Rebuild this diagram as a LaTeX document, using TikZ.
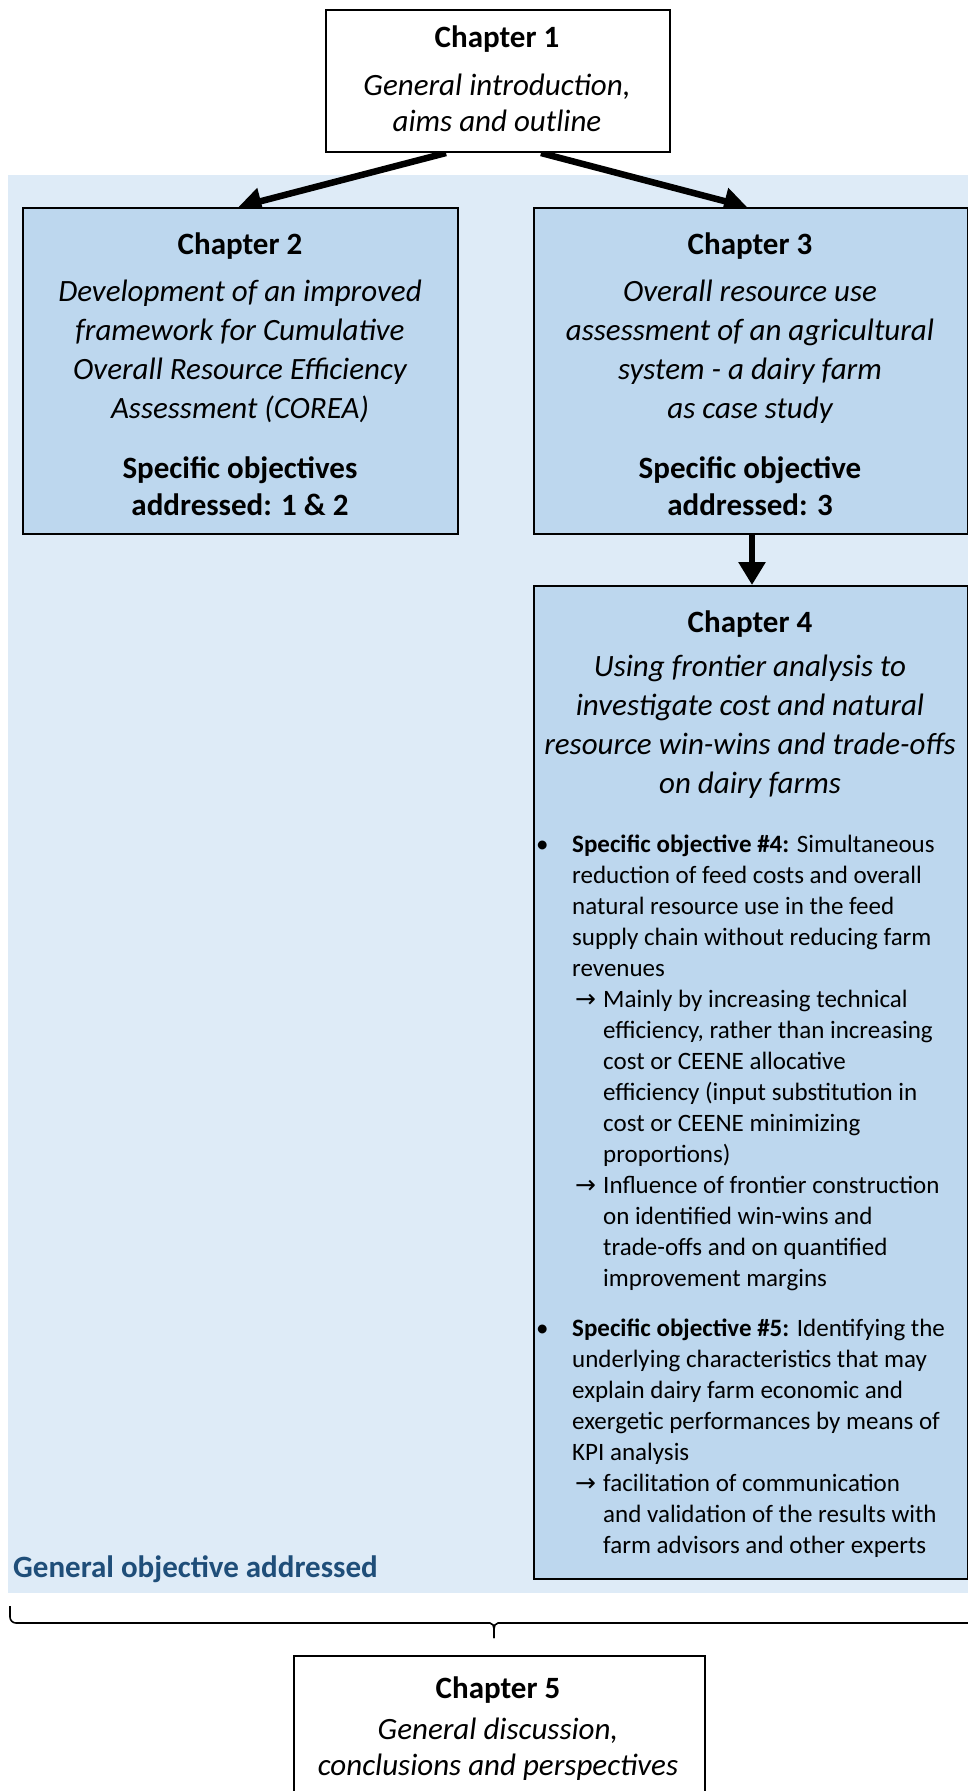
\documentclass[tikz,border=0pt]{standalone}
\usepackage{fontspec}
\setmainfont{Carlito}
\newfontfamily\djv{DejaVu Sans}
\usetikzlibrary{arrows.meta,backgrounds}
\definecolor{bgblue}{RGB}{222,235,247}
\definecolor{boxblue}{RGB}{189,215,238}
\definecolor{darkblue}{RGB}{31,78,121}
\newcommand\arrl{\hspace*{3pt}\makebox[28pt][l]{\djv\fontsize{25}{31}\selectfont →}}
\newcommand\cont{\hspace*{31pt}}
\begin{document}
\begin{tikzpicture}[x=1pt,y=-1pt,
  chbox/.style={draw=black, line width=2pt, fill=boxblue, inner sep=0, anchor=north west},
  hd/.style={font=\fontsize{31}{37}\selectfont\bfseries, anchor=base, inner sep=0, align=center},
  itx/.style={font=\fontsize{31}{39}\selectfont\itshape, anchor=base, inner sep=0, align=center},
  bul/.style={font=\fontsize{25}{31}\selectfont, anchor=base west, inner sep=0, align=left},
  arr/.style={line width=6.5pt, -{Triangle[length=23pt,width=26pt]}}]
\clip (0,0) rectangle (968,1791);
\begin{scope}[on background layer]
\node[fill=bgblue, inner sep=0, minimum width=970pt, minimum height=1418pt, anchor=north west] (bg) at (8,175) {};
\end{scope}
% boxes
\node[chbox, fill=white, minimum width=344pt, minimum height=142pt] (ch1) at (325,9) {};
\node[chbox, minimum width=435pt, minimum height=326pt] (ch2) at (22,207) {};
\node[chbox, minimum width=434pt, minimum height=326pt] (ch3) at (533,207) {};
\node[chbox, minimum width=434pt, minimum height=993pt] (ch4) at (533,585) {};
\node[chbox, fill=white, minimum width=411pt, minimum height=200pt] (ch5) at (293,1655) {};
% chapter 1 (base = last line)
\node[hd] (t1a) at (497,47) {Chapter 1};
\node[itx, font=\fontsize{31}{36}\selectfont\itshape] (t1b) at (497,131) {General introduction,\\aims and outline};
% chapter 2
\node[hd] (t2a) at (240,254) {Chapter 2};
\node[itx] (t2b) at (240,418) {Development of an improved\\framework for Cumulative\\Overall Resource Efficiency\\Assessment (COREA)};
\node[hd] (t2c) at (240,515) {Specific objectives\\addressed: 1 \& 2};
% chapter 3
\node[hd] (t3a) at (750,254) {Chapter 3};
\node[itx] (t3b) at (750,418) {Overall resource use\\assessment of an agricultural\\system - a dairy farm\\as case study};
\node[hd] (t3c) at (750,515) {Specific objective\\addressed: 3};
% chapter 4
\node[hd] (t4a) at (750,632) {Chapter 4};
\node[itx] (t4b) at (750,793) {Using frontier analysis to\\investigate cost and natural\\resource win-wins and trade-offs\\on dairy farms};
\node[bul] (d1) at (536,852) {•};
\node[bul] (b1) at (572,1286) {\textbf{Specific objective \#4:} Simultaneous\\
reduction of feed costs and overall\\
natural resource use in the feed\\
supply chain without reducing farm\\
revenues\\
\arrl Mainly by increasing technical\\
\cont efficiency, rather than increasing\\
\cont cost or CEENE allocative\\
\cont efficiency (input substitution in\\
\cont cost or CEENE minimizing\\
\cont proportions)\\
\arrl Influence of frontier construction\\
\cont on identified win-wins and\\
\cont trade-offs and on quantified\\
\cont improvement margins};
\node[bul] (d2) at (536,1336) {•};
\node[bul] (b2) at (572,1553) {\textbf{Specific objective \#5:} Identifying the\\
underlying characteristics that may\\
explain dairy farm economic and\\
exergetic performances by means of\\
KPI analysis\\
\arrl facilitation of communication\\
\cont and validation of the results with\\
\cont farm advisors and other experts};
% general objective label
\node[font=\fontsize{31}{38}\selectfont\bfseries, text=darkblue, anchor=base west, inner sep=0] (gen) at (13,1577) {General objective addressed};
% chapter 5
\node[hd] (t5a) at (498,1698) {Chapter 5};
\node[itx, font=\fontsize{31}{36}\selectfont\itshape] (t5b) at (498,1775) {General discussion,\\conclusions and perspectives};
% arrows
\begin{scope}[on background layer]
\draw[arr] ([xshift=-52pt]ch1.south) -- ([xshift=-2pt]ch2.north);
\draw[arr] ([xshift=43pt]ch1.south) -- ([xshift=-4pt]ch3.north);
\draw[arr] ([xshift=1pt]ch3.south) -- ([xshift=1pt]ch4.north);
\end{scope}
% brace
\coordinate (bl) at (10,1606);
\coordinate (bm) at (494,1638);
\coordinate (br) at (980,1623);
\draw[line width=1.6pt] (bl) -- (10,1617) to[out=-90,in=180] (16,1623) -- (490,1623) to[out=0,in=90] (494,1629) -- (bm);
\draw[line width=1.6pt] (bm) -- (494,1629) to[out=90,in=180] (498,1623) -- (br);
\end{tikzpicture}
\end{document}
